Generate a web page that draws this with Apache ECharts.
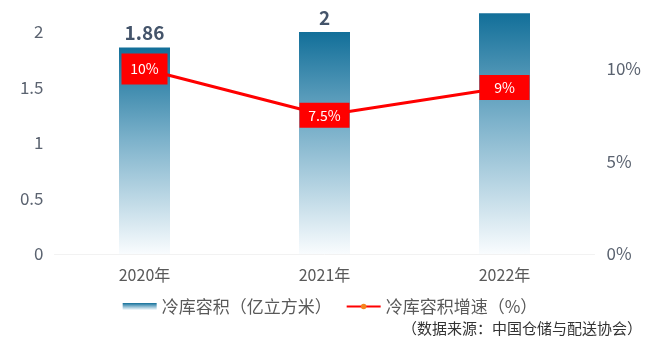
<!DOCTYPE html>
<html>
<head>
<meta charset="utf-8">
<script src="https://cdn.jsdelivr.net/npm/echarts@6/dist/echarts.min.js"></script>
<style>
  html, body { margin: 0; padding: 0; background: #fff; }
  #chart { width: 660px; height: 347px; }
</style>
</head>
<body>
<div id="chart"></div>
<script>
// Cold storage capacity (100M m³) and its growth rate
const years = ['2020年', '2021年', '2022年'];
const capacity = [1.86, 2, 2.17];
const growth = [10, 7.5, 9];
const showCapLabel = [true, true, false];

const FONT = '"Noto Sans CJK SC", "Open Sans", sans-serif';
const chart = echarts.init(document.getElementById('chart'));

const barGradient = new echarts.graphic.LinearGradient(0, 0, 0, 1, [
  { offset: 0, color: '#126f99' },
  { offset: 0.45, color: '#7db2cb' },
  { offset: 1, color: '#f9fcfe' }
]);

chart.setOption({
  animation: false,
  textStyle: { fontFamily: FONT },
  grid: { left: 54.5, right: 65.5, top: -23.5, bottom: 93, outerBoundsMode: 'none', containLabel: false },
  legend: {
    bottom: 27,
    left: 'center',
    itemGap: 14,
    itemWidth: 34,
    itemHeight: 7,
    textStyle: { fontSize: 17, color: '#595959', fontFamily: FONT },
    data: [
      { name: '冷库容积（亿立方米）', icon: 'rect' },
      { name: '冷库容积增速（%）', itemStyle: { color: '#f5841f' } }
    ]
  },
  xAxis: {
    type: 'category',
    data: years,
    axisTick: { show: false },
    axisLine: { show: true, lineStyle: { color: '#f2f2f2' } },
    axisLabel: { fontSize: 16, color: '#595959', margin: 13 }
  },
  yAxis: [
    {
      type: 'value', min: 0, max: 2.5, interval: 0.5,
      splitLine: { show: false },
      axisLabel: { fontSize: 17, color: '#5b6370', margin: 11 }
    },
    {
      type: 'value', min: 0, max: 15, interval: 5,
      splitLine: { show: false },
      axisLabel: { fontSize: 17, color: '#5b6370', margin: 12, formatter: '{value}%' }
    }
  ],
  series: [
    {
      name: '冷库容积（亿立方米）',
      type: 'bar',
      barWidth: 51,
      clip: false,
      itemStyle: { color: barGradient },
      data: capacity.map((v, i) => ({
        value: v,
        label: {
          show: showCapLabel[i],
          position: 'top',
          distance: 5,
          fontSize: 19,
          fontWeight: 'bold',
          color: '#44546a'
        }
      }))
    },
    {
      name: '冷库容积增速（%）',
      type: 'line',
      yAxisIndex: 1,
      symbol: 'circle',
      symbolSize: 6,
      itemStyle: { color: '#f5841f' },
      lineStyle: { color: '#ff0000', width: 3 },
      z: 5,
      data: growth.map((v, i) => ({
        value: v,
        label: {
          show: true,
          position: 'inside',
          formatter: '{c}%',
          backgroundColor: '#ff0000',
          color: '#ffffff',
          fontSize: 14,
          align: 'center',
          verticalAlign: 'middle',
          width: i === 0 ? 46 : 50,
          height: i === 0 ? 31 : 25,
          lineHeight: i === 0 ? 31 : 25
        }
      }))
    }
  ],
  graphic: [
    {
      type: 'text',
      right: 18,
      top: 321,
      style: {
        text: '（数据来源：中国仓储与配送协会）',
        font: '15px "Noto Sans CJK SC", serif',
        fill: '#333333'
      }
    }
  ]
});
</script>
</body>
</html>
